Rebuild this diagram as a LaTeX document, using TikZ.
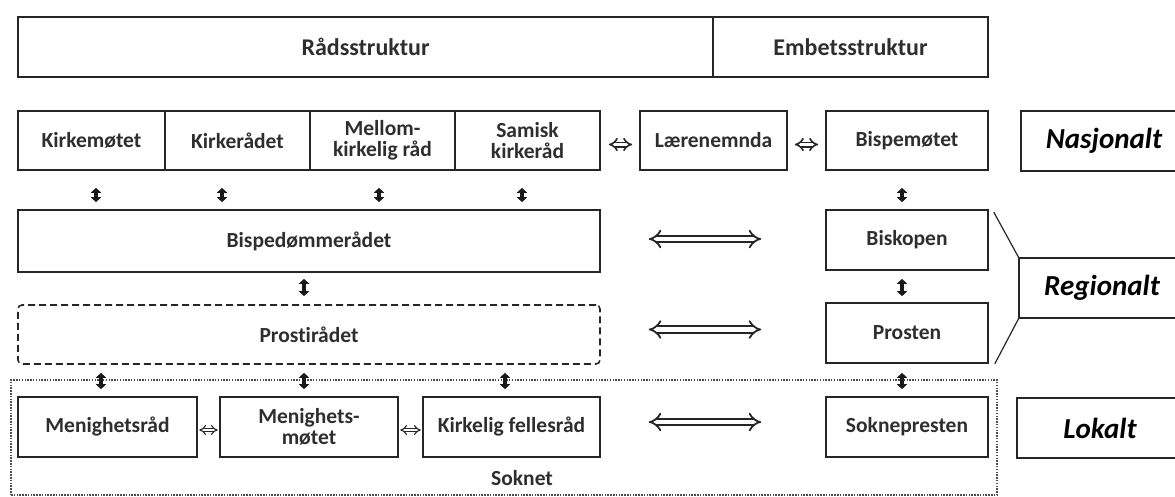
\documentclass[tikz,border=0pt]{standalone}
\usepackage{fontspec}
\setmainfont{Carlito}[Ligatures=NoCommon]
\usetikzlibrary{arrows.meta}
\begin{document}
\begin{tikzpicture}[x=1pt,y=-1pt,
  box/.style={draw=black!85, line width=1.6pt, inner sep=0pt, align=center,
    text=black!82, font=\fontsize{21.5}{21}\selectfont\bfseries},
  hdr/.style={box, font=\fontsize{24}{26}\selectfont\bfseries},
  dashbox/.style={box, dash pattern=on 7pt off 4pt, rounded corners=4pt},
  dotbox/.style={draw=black!70, line width=1.5pt, dash pattern=on 1.5pt off 1.3pt, inner sep=0pt},
  lvl/.style={inner sep=0pt, text=black, font=\fontsize{29}{31}\selectfont\bfseries\itshape},
  lvlline/.style={draw=black!85, line width=1.6pt},
  calloutline/.style={draw=black!85, line width=1.2pt},
  varrow/.style={draw=black!90, line width=3.4pt, {Triangle[length=5pt,width=10pt]}-{Triangle[length=5pt,width=10pt]}},
  bigarrow/.style={draw=black!85, line width=1.8pt, double=white, double distance=4.5pt, {Implies}-{Implies}},
  smallarrow/.style={draw=black!85, line width=1.6pt, double=white, double distance=2.8pt, {Implies}-{Implies}},
  tinyarrow/.style={draw=black!85, line width=1.1pt, double=white, double distance=2.2pt, {Implies}-{Implies}},
]
\useasboundingbox (0,0) rectangle (1175,496);
\coordinate (E) at (1175,0);

% parish dotted frame
\node[dotbox, minimum width=986pt, minimum height=115pt] (soknet) at (504,437.5) {};
\node[box, draw=none] (soknetlbl) at (522,478) {Soknet};

% header
\node[hdr, minimum width=695pt, minimum height=60pt] (rad) at (365.5,47) {Rådsstruktur};
\node[hdr, minimum width=275pt, minimum height=60pt] (emb) at (850.5,47) {Embetsstruktur};

% national row
\node[box, minimum width=147pt, minimum height=59pt] (kmt) at (91.5,140.5) {Kirkemøtet};
\node[box, minimum width=145pt, minimum height=59pt] (kr) at (237.5,140.5) {Kirkerådet};
\node[box, minimum width=145pt, minimum height=59pt] (mkr) at (382.5,140.5) {Mellom-\\kirkelig råd};
\node[box, minimum width=145pt, minimum height=59pt] (skr) at (527.5,140.5) {Samisk\\kirkeråd};
\node[box, minimum width=147pt, minimum height=59pt] (lae) at (713.5,140.5) {Lærenemnda};
\node[box, minimum width=162pt, minimum height=59pt] (bsm) at (907,140.5) {Bispemøtet};

% regional
\node[box, minimum width=582pt, minimum height=62pt] (bdr) at (309,241) {Bispedømmerådet};
\node[box, minimum width=162pt, minimum height=60pt] (bis) at (907,240) {Biskopen};
\node[dashbox, minimum width=582pt, minimum height=59pt] (prost) at (309,334.5) {Prostirådet};
\node[box, minimum width=162pt, minimum height=60pt] (pst) at (907,333) {Prosten};

% local
\node[box, minimum width=179pt, minimum height=60pt] (mr) at (107.5,427) {Menighetsråd};
\node[box, minimum width=178pt, minimum height=60pt] (mm) at (309,427) {Menighets-\\møtet};
\node[box, minimum width=177pt, minimum height=60pt] (kf) at (511.5,427) {Kirkelig fellesråd};
\node[box, minimum width=162pt, minimum height=60pt] (sok) at (907,427) {Soknepresten};

% level labels
\node[lvl, minimum width=166pt, minimum height=60pt] (nas) at (1104,141) {Nasjonalt};
\node[lvl, minimum width=166pt, minimum height=60pt] (reg) at (1102,288) {Regionalt};
\node[lvl, minimum width=166pt, minimum height=60pt] (lok) at (1100,428) {Lokalt};
\draw[lvlline] (nas.north -| E) -- (nas.north west) -- (nas.south west) -- (nas.south -| E);
\draw[lvlline] (reg.north -| E) -- (reg.north west) -- (reg.south west) -- (reg.south -| E);
\draw[lvlline] (lok.north -| E) -- (lok.north west) -- (lok.south west) -- (lok.south -| E);
\draw[calloutline] ([shift={(5,3)}]bis.north east) -- (reg.north west);
\draw[calloutline] (reg.south west) -- ([shift={(6,0)}]pst.south east);

% vertical arrows national -> regional
\draw[varrow, shorten <=17pt, shorten >=7pt] ([xshift=4.5pt]kmt.south) -- ([xshift=4.5pt]kmt.south |- bdr.north);
\draw[varrow, shorten <=17pt, shorten >=7pt] ([xshift=-15.5pt]kr.south) -- ([xshift=-15.5pt]kr.south |- bdr.north);
\draw[varrow, shorten <=17pt, shorten >=7pt] ([xshift=-3.5pt]mkr.south) -- ([xshift=-3.5pt]mkr.south |- bdr.north);
\draw[varrow, shorten <=17pt, shorten >=7pt] ([xshift=-5.5pt]skr.south) -- ([xshift=-5.5pt]skr.south |- bdr.north);
\draw[varrow, shorten <=17pt, shorten >=7pt] ([xshift=-5pt]bsm.south) -- ([xshift=-5pt]bis.north);

% regional -> prosti
\draw[varrow, shorten <=6pt, shorten >=8pt] ([xshift=-5pt]bdr.south) -- ([xshift=-5pt]prost.north);
\draw[varrow, shorten <=8pt, shorten >=6pt] ([xshift=-5pt]bis.south) -- ([xshift=-5pt]pst.north);

% prosti -> local
\draw[varrow, shorten <=8pt, shorten >=7pt] ([xshift=-6.5pt]mr.north |- prost.south) -- ([xshift=-6.5pt]mr.north);
\draw[varrow, shorten <=8pt, shorten >=7pt] ([xshift=-5pt]mm.north |- prost.south) -- ([xshift=-5pt]mm.north);
\draw[varrow, shorten <=8pt, shorten >=7pt] ([xshift=-6.5pt]kf.north |- prost.south) -- ([xshift=-6.5pt]kf.north);
\draw[varrow, shorten <=9pt, shorten >=7pt] ([xshift=-5pt]pst.south) -- ([xshift=-5pt]sok.north);

% horizontal big arrows
\draw[bigarrow, shorten <=48pt, shorten >=64pt] ([yshift=2pt]bdr.east) -- ([yshift=2pt]bdr.east -| bis.west);
\draw[bigarrow, shorten <=48pt, shorten >=64pt] ([yshift=5pt]prost.east) -- ([yshift=5pt]prost.east -| pst.west);
\draw[bigarrow, shorten <=48pt, shorten >=64pt] ([yshift=5pt]kf.east) -- ([yshift=5pt]kf.east -| sok.west);

% small arrows
\draw[smallarrow, shorten <=8pt, shorten >=7pt] ([yshift=-4pt]skr.east) -- ([yshift=-4pt]skr.east -| lae.west);
\draw[smallarrow, shorten <=7pt, shorten >=7pt] ([yshift=-4pt]lae.east) -- ([yshift=-4pt]lae.east -| bsm.west);
\draw[tinyarrow, shorten <=1.5pt, shorten >=1.5pt] ([yshift=-3pt]mr.east) -- ([yshift=-3pt]mr.east -| mm.west);
\draw[tinyarrow, shorten <=1.5pt, shorten >=1.5pt] ([yshift=-3pt]mm.east) -- ([yshift=-3pt]mm.east -| kf.west);
\end{tikzpicture}
\end{document}
